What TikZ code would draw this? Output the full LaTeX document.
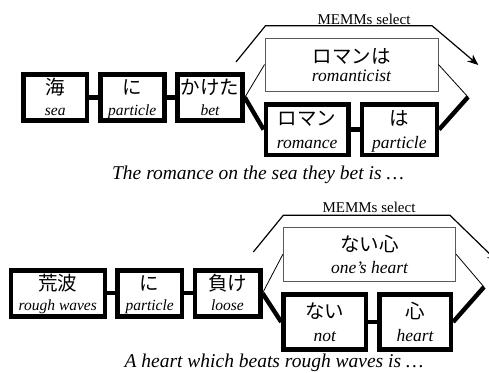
\documentclass[tikz,border=0pt]{standalone}
\usepackage{fontspec}
\setmainfont{Liberation Serif}
\newfontfamily\jpfont{Noto Sans CJK JP}
\usetikzlibrary{arrows.meta}
\tikzset{
  wbox/.style={draw, line width=4.6pt, inner sep=0pt, minimum height=46pt},
  wboxL/.style={draw, line width=4.6pt, inner sep=0pt},
  selbox/.style={draw=black!65, line width=0.9pt, inner sep=0pt, minimum width=173pt, minimum height=53pt},
  jptext/.style={inner sep=0pt, font=\jpfont\fontsize{19.5}{22}\selectfont},
  ensmall/.style={inner sep=0pt, anchor=base, font=\itshape\fontsize{15.5}{18}\selectfont},
  enlarge/.style={inner sep=0pt, anchor=base, font=\itshape\fontsize{17.5}{20}\selectfont},
  thickc/.style={line width=4.4pt},
  thinc/.style={line width=0.8pt},
  outerarrow/.style={line width=1.2pt, -{Stealth[length=11pt,width=9pt]}},
  memm/.style={inner sep=0pt, anchor=base, font=\fontsize{15}{18}\selectfont},
  capt/.style={inner sep=0pt, anchor=base, font=\itshape\fontsize{19.5}{22}\selectfont}
}
\begin{document}
\begin{tikzpicture}[x=1pt,y=-1pt]
\useasboundingbox[fill=white] (0,0) rectangle (489,372);

% ---------- top diagram ----------
\node[wbox, minimum width=63.5pt] (umi) at (55.2,97.4) {};
\node[wbox, minimum width=64pt] (ni) at (132.2,97.4) {};
\node[wbox, minimum width=65pt] (kaketa) at (210,97.4) {};
\node[jptext] (umij) at ([yshift=10pt]umi.center) {海};
\node[ensmall] (umie) at ([yshift=-17.6pt]umi.center) {sea};
\node[jptext] (nij) at ([yshift=10pt]ni.center) {に};
\node[ensmall] (nie) at ([yshift=-17.6pt]ni.center) {particle};
\node[jptext] (kaketaj) at ([yshift=10pt]kaketa.center) {かけた};
\node[ensmall] (kaketae) at ([yshift=-17.6pt]kaketa.center) {bet};

\node[selbox] (romanha) at (351.5,64.5) {};
\node[jptext] (romanhaj) at ([yshift=8pt]romanha.center) {ロマンは};
\node[enlarge] (romanhae) at ([yshift=-17pt]romanha.center) {romanticist};

\node[wboxL, minimum width=82.7pt, minimum height=50.6pt] (roman) at (307.2,129.5) {};
\node[wboxL, minimum width=75pt, minimum height=50.6pt] (ha) at (399.3,129.5) {};
\node[jptext] (romanj) at ([yshift=11pt]roman.center) {ロマン};
\node[enlarge] (romane) at ([yshift=-19pt]roman.center) {romance};
\node[jptext] (haj) at ([yshift=11pt]ha.center) {は};
\node[enlarge] (hae) at ([yshift=-19pt]ha.center) {particle};

\coordinate (J1) at (468,97);
\coordinate (A1) at (236,62);
\coordinate (B1) at (265.5,25.7);
\coordinate (C1) at (432,25.7);
\coordinate (T1) at (478.3,65);

\draw[thickc] (umi) -- (ni);
\draw[thickc] (ni) -- (kaketa);
\draw[thickc] (kaketa.east) -- (roman.west);
\draw[thinc] (kaketa.east) -- (romanha.west);
\draw[thickc] (roman) -- (ha);
\draw[thickc] (ha.east) -- (J1);
\draw[thinc] (romanha.east) -- (J1);
\draw[outerarrow] (A1) -- (B1) -- (C1) -- (T1);
\node[memm] (memm1) at (364,24) {MEMMs select};
\node[capt] (cap1) at (258,179) {The romance on the sea they bet is …};

% ---------- bottom diagram ----------
\node[wbox, minimum width=94pt] (arana) at (57.8,293.2) {};
\node[wbox, minimum width=64.3pt] (ni2) at (149.7,293.2) {};
\node[wbox, minimum width=65.4pt] (make) at (227.5,293.2) {};
\node[jptext] (aranaj) at ([yshift=10pt]arana.center) {荒波};
\node[ensmall] (aranae) at ([yshift=-17.6pt]arana.center) {rough waves};
\node[jptext] (ni2j) at ([yshift=10pt]ni2.center) {に};
\node[ensmall] (ni2e) at ([yshift=-17.6pt]ni2.center) {particle};
\node[jptext] (makej) at ([yshift=10pt]make.center) {負け};
\node[ensmall] (makee) at ([yshift=-17.6pt]make.center) {loose};

\node[selbox, minimum width=172.4pt, minimum height=53.3pt] (naikokoro) at (369.5,254.3) {};
\node[jptext] (naikokoroj) at ([yshift=10pt]naikokoro.center) {ない心};
\node[enlarge] (naikokoroe) at ([yshift=-19pt]naikokoro.center) {one’s heart};

\node[wboxL, minimum width=82.3pt, minimum height=55pt] (nai) at (324.7,322) {};
\node[wboxL, minimum width=71.6pt, minimum height=55pt] (kokoro) at (415,322) {};
\node[jptext] (naij) at ([yshift=11pt]nai.center) {ない};
\node[enlarge] (naie) at ([yshift=-19pt]nai.center) {not};
\node[jptext] (kokoroj) at ([yshift=11pt]kokoro.center) {心};
\node[enlarge] (kokoroe) at ([yshift=-19pt]kokoro.center) {heart};

\coordinate (J2) at (484,287);
\coordinate (A2) at (253.3,252);
\coordinate (B2) at (283.3,215.3);
\coordinate (C2) at (450,215.3);
\coordinate (T2) at (498,262);

\draw[thickc] (arana) -- (ni2);
\draw[thickc] (ni2) -- (make);
\draw[thickc] (make.east) -- (nai.west);
\draw[thinc] (make.east) -- (naikokoro.west);
\draw[thickc] (nai) -- (kokoro);
\draw[thickc] (kokoro.east) -- (J2);
\draw[thinc] (naikokoro.east) -- (J2);
\draw[outerarrow] (A2) -- (B2) -- (C2) -- (T2);
\node[memm] (memm2) at (369,212.5) {MEMMs select};
\node[capt] (cap2) at (274,367) {A heart which beats rough waves is …};
\end{tikzpicture}
\end{document}
